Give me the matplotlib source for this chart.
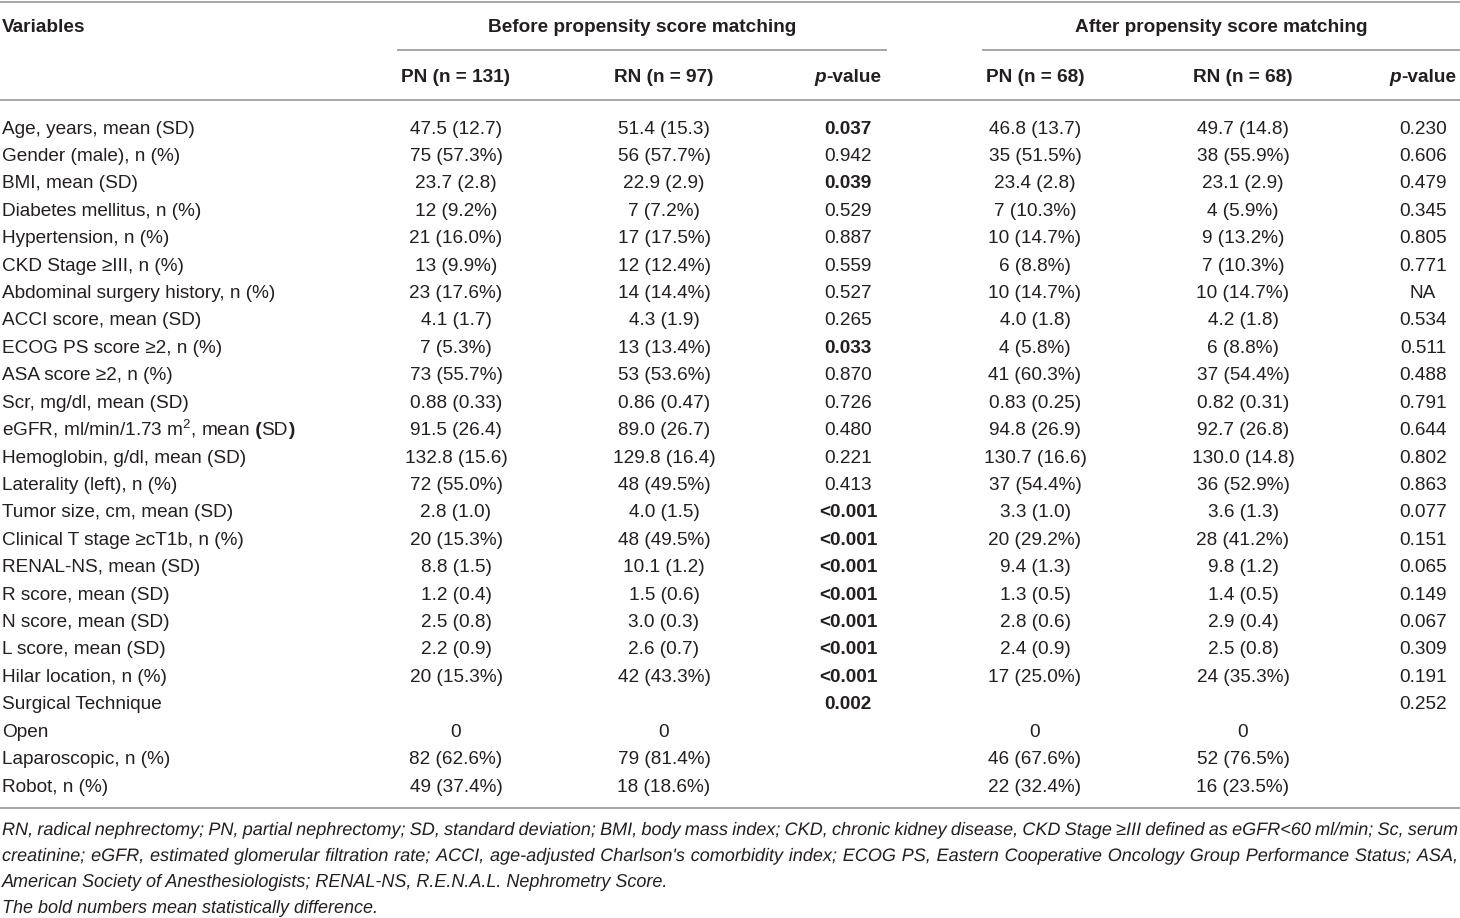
import matplotlib
matplotlib.use('Agg')
import matplotlib.pyplot as plt
from matplotlib.textpath import TextPath, text_to_path
from matplotlib.patches import PathPatch
from matplotlib.font_manager import FontProperties
from matplotlib.transforms import Affine2D

plt.rcParams['font.family'] = ['Liberation Sans', 'DejaVu Sans']
plt.rcParams['mathtext.fontset'] = 'custom'
plt.rcParams['mathtext.rm'] = 'Liberation Sans'
plt.rcParams['mathtext.it'] = 'Liberation Sans:italic'
plt.rcParams['mathtext.bf'] = 'Liberation Sans:bold'

# Table content
variables = [
    'Age, years, mean (SD)', 'Gender (male), n (%)', 'BMI, mean (SD)',
    'Diabetes mellitus, n (%)', 'Hypertension, n (%)', 'CKD Stage \u2265III, n (%)',
    'Abdominal surgery history, n (%)', 'ACCI score, mean (SD)',
    'ECOG PS score \u22652, n (%)', 'ASA score \u22652, n (%)', 'Scr, mg/dl, mean (SD)',
    'eGFR, ml/min/1.73 m$^2$, mean (SD)', 'Hemoglobin, g/dl, mean (SD)',
    'Laterality (left), n (%)', 'Tumor size, cm, mean (SD)',
    'Clinical T stage \u2265cT1b, n (%)', 'RENAL-NS, mean (SD)', 'R score, mean (SD)',
    'N score, mean (SD)', 'L score, mean (SD)', 'Hilar location, n (%)',
    'Surgical Technique', 'Open', 'Laparoscopic, n (%)', 'Robot, n (%)',
]
before_pn = ['47.5 (12.7)', '75 (57.3%)', '23.7 (2.8)', '12 (9.2%)', '21 (16.0%)',
             '13 (9.9%)', '23 (17.6%)', '4.1 (1.7)', '7 (5.3%)', '73 (55.7%)',
             '0.88 (0.33)', '91.5 (26.4)', '132.8 (15.6)', '72 (55.0%)', '2.8 (1.0)',
             '20 (15.3%)', '8.8 (1.5)', '1.2 (0.4)', '2.5 (0.8)', '2.2 (0.9)',
             '20 (15.3%)', '', '0', '82 (62.6%)', '49 (37.4%)']
before_rn = ['51.4 (15.3)', '56 (57.7%)', '22.9 (2.9)', '7 (7.2%)', '17 (17.5%)',
             '12 (12.4%)', '14 (14.4%)', '4.3 (1.9)', '13 (13.4%)', '53 (53.6%)',
             '0.86 (0.47)', '89.0 (26.7)', '129.8 (16.4)', '48 (49.5%)', '4.0 (1.5)',
             '48 (49.5%)', '10.1 (1.2)', '1.5 (0.6)', '3.0 (0.3)', '2.6 (0.7)',
             '42 (43.3%)', '', '0', '79 (81.4%)', '18 (18.6%)']
before_p = ['0.037', '0.942', '0.039', '0.529', '0.887', '0.559', '0.527', '0.265',
            '0.033', '0.870', '0.726', '0.480', '0.221', '0.413', '<0.001', '<0.001',
            '<0.001', '<0.001', '<0.001', '<0.001', '<0.001', '0.002', '', '', '']
after_pn = ['46.8 (13.7)', '35 (51.5%)', '23.4 (2.8)', '7 (10.3%)', '10 (14.7%)',
            '6 (8.8%)', '10 (14.7%)', '4.0 (1.8)', '4 (5.8%)', '41 (60.3%)',
            '0.83 (0.25)', '94.8 (26.9)', '130.7 (16.6)', '37 (54.4%)', '3.3 (1.0)',
            '20 (29.2%)', '9.4 (1.3)', '1.3 (0.5)', '2.8 (0.6)', '2.4 (0.9)',
            '17 (25.0%)', '', '0', '46 (67.6%)', '22 (32.4%)']
after_rn = ['49.7 (14.8)', '38 (55.9%)', '23.1 (2.9)', '4 (5.9%)', '9 (13.2%)',
            '7 (10.3%)', '10 (14.7%)', '4.2 (1.8)', '6 (8.8%)', '37 (54.4%)',
            '0.82 (0.31)', '92.7 (26.8)', '130.0 (14.8)', '36 (52.9%)', '3.6 (1.3)',
            '28 (41.2%)', '9.8 (1.2)', '1.4 (0.5)', '2.9 (0.4)', '2.5 (0.8)',
            '24 (35.3%)', '', '0', '52 (76.5%)', '16 (23.5%)']
after_p = ['0.230', '0.606', '0.479', '0.345', '0.805', '0.771', 'NA', '0.534',
           '0.511', '0.488', '0.791', '0.644', '0.802', '0.863', '0.077', '0.151',
           '0.065', '0.149', '0.067', '0.309', '0.191', '0.252', '', '', '']

group_titles = ['Before propensity score matching', 'After propensity score matching']
col_headers = ['PN (n = 131)', 'RN (n = 97)', 'PN (n = 68)', 'RN (n = 68)']

footnotes = [
    "RN, radical nephrectomy; PN, partial nephrectomy; SD, standard deviation; BMI, body mass index; "
    "CKD, chronic kidney disease, CKD Stage \u2265III defined as eGFR<60 ml/min; Sc, serum",
    "creatinine; eGFR, estimated glomerular filtration rate; ACCI, age-adjusted Charlson's comorbidity "
    "index; ECOG PS, Eastern Cooperative Oncology Group Performance Status; ASA,",
    "American Society of Anesthesiologists; RENAL-NS, R.E.N.A.L. Nephrometry Score.",
    "The bold numbers mean statistically difference.",
]

TEXT = '#231f20'
RULE = '#a6a6a6'
FS = 13.7
FS_FOOT = 13.0


def is_significant(p):
    if p.startswith('<'):
        return True
    try:
        return float(p) < 0.05
    except ValueError:
        return False


fig = plt.figure(figsize=(14.6, 9.18), dpi=100)
ax = fig.add_axes([0, 0, 1, 1])
ax.set_xlim(0, 1460)
ax.set_ylim(918, 0)
ax.axis('off')
renderer = fig.canvas.get_renderer()


def width_of(t):
    return t.get_window_extent(renderer=renderer).width


def runs_text(x, y, runs, align='center'):
    # draw several text pieces side by side (centred or left-aligned as a group)
    texts = [ax.text(0, y, s, va='baseline', ha='left', color=TEXT, fontsize=FS, **kw)
             for s, kw in runs]
    widths = [width_of(t) for t in texts]
    if align == 'center':
        x = x - sum(widths) / 2
    for t, w in zip(texts, widths):
        t.set_x(x)
        x += w


def justified(y, line, x0=2, x1=1458):
    # words drawn as vector paths so they all sit on exactly the same baseline
    size_px = FS_FOOT * 100 / 72
    prop = FontProperties(family='Liberation Sans', style='italic', size=size_px)
    words = line.split(' ')
    widths = [text_to_path.get_text_width_height_descent(w, prop, ismath=False)[0]
              for w in words]
    gap = (x1 - x0 - sum(widths)) / (len(words) - 1)
    x = x0
    for w, wd in zip(words, widths):
        path = TextPath((0, 0), w, prop=prop)
        path = Affine2D().scale(1, -1).translate(x, y).transform_path(path)
        ax.add_patch(PathPatch(path, facecolor=TEXT, edgecolor='none', lw=0))
        x += wd + gap


# rules
ax.plot([0, 1460], [2, 2], color=RULE, lw=1.4)
ax.plot([398, 886], [50, 50], color=RULE, lw=1.4)
ax.plot([983, 1460], [50, 50], color=RULE, lw=1.4)
ax.plot([0, 1460], [100, 100], color=RULE, lw=1.4)
ax.plot([0, 1460], [808, 808], color=RULE, lw=1.4)

# header
ax.text(2, 32, 'Variables', fontsize=FS, weight='bold', color=TEXT, va='baseline')
ax.text(642, 32, group_titles[0], fontsize=FS, weight='bold', color=TEXT,
        va='baseline', ha='center')
ax.text(1221, 32, group_titles[1], fontsize=FS, weight='bold', color=TEXT,
        va='baseline', ha='center')

col_x = [456, 664, 848, 1035, 1243, 1423]
for x, h in zip([col_x[0], col_x[1], col_x[3], col_x[4]], col_headers):
    ax.text(x, 82, h, fontsize=FS, weight='bold', color=TEXT, va='baseline', ha='center')
for x in [col_x[2], col_x[5]]:
    runs_text(x, 82, [('p', dict(style='italic', weight='bold')),
                      ('-value', dict(weight='bold'))])

# body rows
row_base0 = 133.5
row_h = 27.42
columns = [before_pn, before_rn, before_p, after_pn, after_rn, after_p]
for i, var in enumerate(variables):
    y = row_base0 + i * row_h
    if var.endswith('m$^2$, mean (SD)'):
        # the source sets the brackets of this row's "(SD)" in bold
        runs_text(2, y, [(var[:-5], {}), (' (', dict(weight='bold')), ('SD', {}),
                         (')', dict(weight='bold'))], align='left')
    else:
        ax.text(2, y, var, fontsize=FS, color=TEXT, va='baseline', ha='left')
    for j, col in enumerate(columns):
        val = col[i]
        if not val:
            continue
        bold = j in (2, 5) and is_significant(val)
        ax.text(col_x[j], y, val, fontsize=FS, color=TEXT, va='baseline', ha='center',
                weight='bold' if bold else 'normal')

# footnotes
foot_base = [835, 861, 887, 913]
for k, (y, line) in enumerate(zip(foot_base, footnotes)):
    if k < 2:
        justified(y, line)
    else:
        ax.text(2, y, line, fontsize=FS_FOOT, color=TEXT, style='italic', va='baseline')

fig.savefig('out.png', dpi=100)
